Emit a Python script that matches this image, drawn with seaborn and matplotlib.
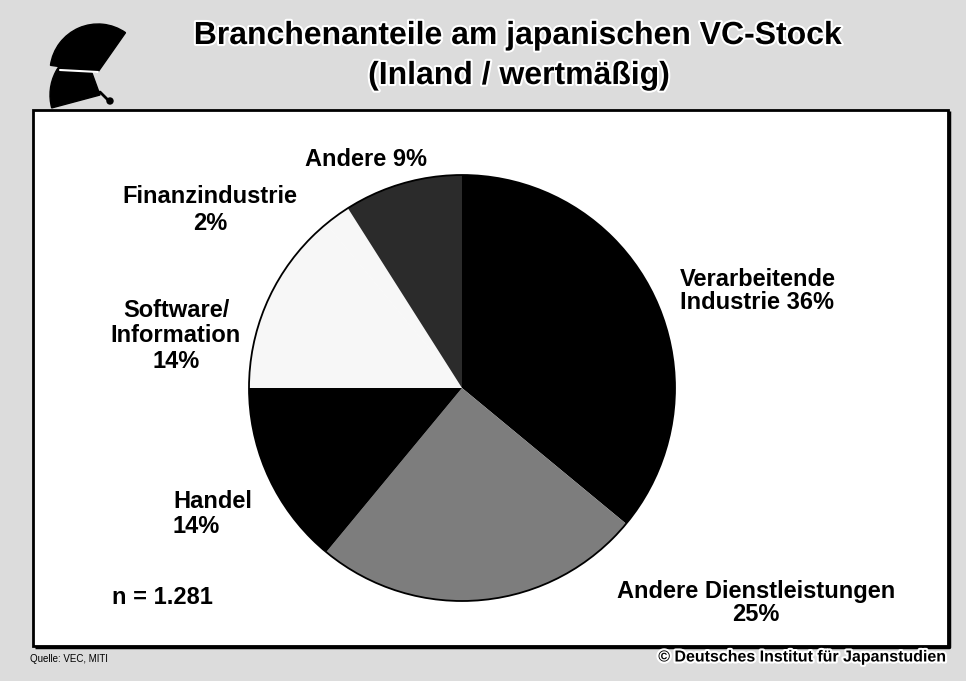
import matplotlib
matplotlib.use("Agg")
import matplotlib.pyplot as plt
from matplotlib.patches import Rectangle, Wedge, Circle
import matplotlib.patheffects as pe
import seaborn as sns

# ---- data ----
categories = ["Verarbeitende Industrie", "Andere Dienstleistungen", "Handel",
              "Software/Information", "Finanzindustrie", "Andere"]
display_names = ["Verarbeitende\nIndustrie", "Andere Dienstleistungen", "Handel",
                 "Software/\nInformation", "Finanzindustrie", "Andere"]
shares = [36, 25, 14, 14, 2, 9]
label_seps = [" ", "\n", "\n", "\n", "\n", " "]
slice_colors = ["#000000", "#7d7d7d", "#000000", "#f7f7f7", "#f7f7f7", "#2b2b2b"]

title_lines = ["Branchenanteile am japanischen VC-Stock", "(Inland / wertmäßig)"]
n_text = "n = 1.281"
source_text = "Quelle: VEC, MITI"
copyright_text = "© Deutsches Institut für Japanstudien"

# label placement (pixel coords in a 966x681 canvas, y down)
label_pos = [(680, 291), (756, 603), (173, 514), (176, 336), (210, 210), (366, 160)]
label_ha = ["left", "center", "left", "center", "center", "center"]
label_spacing = [1.05, 1.05, 1.15, 1.15, 1.25, 1.05]

sns.set_theme(style="white")
plt.rcParams["font.family"] = ["Liberation Sans", "DejaVu Sans"]
plt.rcParams["text.color"] = "black"

W, H = 966, 681
fig = plt.figure(figsize=(W / 100, H / 100), dpi=100)
fig.patch.set_facecolor("#dcdcdc")

# overlay axes in pixel coordinates
bg = fig.add_axes([0, 0, 1, 1], zorder=0)
bg.set_xlim(0, W)
bg.set_ylim(H, 0)
bg.axis("off")

# white frame
bg.add_patch(Rectangle((33, 110), 915, 536, facecolor="white", edgecolor="black", lw=2))
bg.plot([35, 949, 949], [647, 647, 111], color="black", lw=2.5, solid_capstyle="butt")

# logo (two ginkgo leaves, stems to the lower right)
bg.add_patch(Wedge((98, 72), 48, -172, -55, color="black"))
bg.add_patch(Wedge((100, 95), 50, -195, -110, color="black"))
bg.plot([98, 60], [72, 70], color="white", lw=1.5)
bg.plot([100, 110], [92, 102], color="black", lw=2)
bg.add_patch(Circle((110, 101), 3, color="black"))

# title
halo = [pe.withStroke(linewidth=3, foreground="white")]
bg.text(518, 36, title_lines[0], ha="center", va="center", fontsize=23,
        fontweight="bold", color="black", path_effects=halo)
bg.text(519, 76, title_lines[1], ha="center", va="center", fontsize=23,
        fontweight="bold", color="black", path_effects=halo)

# pie
cx, cy, r = 462, 388, 213
ax = fig.add_axes([(cx - r) / W, (H - cy - r) / H, 2 * r / W, 2 * r / H], zorder=2)
wedges, _ = ax.pie(shares, colors=slice_colors, startangle=90, counterclock=False,
                   wedgeprops=dict(linewidth=0))
for w in wedges:
    w.set_clip_on(False)
outline = Circle((0, 0), 1, fill=False, edgecolor="black", lw=1.3)
outline.set_clip_on(False)
ax.add_patch(outline)
ax.set_xlim(-1.0, 1.0)
ax.set_ylim(-1.0, 1.0)
ax.set_aspect("equal")
ax.axis("off")

# labels
for name, sep, v, (x, y), ha, ls in zip(display_names, label_seps, shares,
                                        label_pos, label_ha, label_spacing):
    bg.text(x, y, f"{name}{sep}{v}%", ha=ha, va="center", multialignment=ha,
            fontsize=17, fontweight="bold", color="black", linespacing=ls)

bg.text(112, 597, n_text, ha="left", va="center", fontsize=17, fontweight="bold",
        color="black")
bg.text(30, 659, source_text, ha="left", va="center", fontsize=7, color="black")
bg.text(948, 657, copyright_text, ha="right", va="center", fontsize=11.5,
        fontweight="bold", color="black", path_effects=halo)

fig.savefig("out.png", dpi=100, facecolor=fig.get_facecolor())
